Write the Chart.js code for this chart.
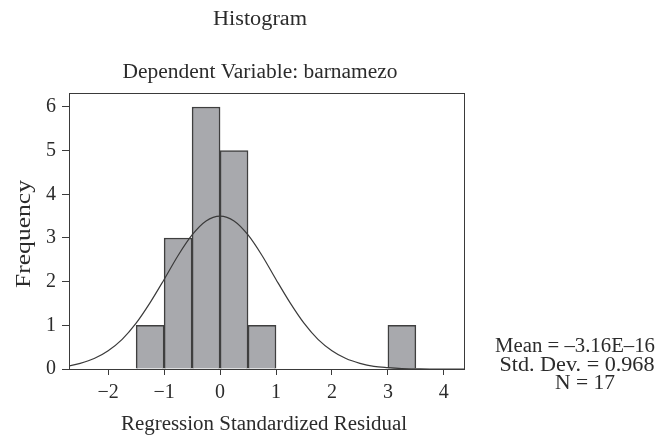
<!DOCTYPE html>
<html>
<head>
<meta charset="utf-8">
<script src="https://cdn.jsdelivr.net/npm/chart.js@4/dist/chart.umd.min.js"></script>
<style>
  html, body { margin: 0; padding: 0; background: #fff; }
  canvas { display: block; }
</style>
</head>
<body>
<canvas id="hist" width="658" height="438"></canvas>
<script>
// Данные гистограммы (ширина бина 0.5)
const binCenters = [-1.25, -0.75, -0.25, 0.25, 0.75, 3.25];
const binCounts = [1, 3, 6, 5, 1, 1];

// Нормальная кривая, точки
const curveX = [-2.7, -2.5, -2.25, -2, -1.75, -1.5, -1.25, -1, -0.75, -0.5, -0.25, 0, 0.25, 0.5, 0.75, 1, 1.25, 1.5, 1.75, 2, 2.25, 2.5, 2.75, 3, 3.25, 3.5, 3.75, 4, 4.36];
const curveY = [0.07, 0.13, 0.24, 0.42, 0.68, 1.05, 1.52, 2.05, 2.6, 3.07, 3.39, 3.5, 3.39, 3.07, 2.6, 2.05, 1.52, 1.05, 0.68, 0.42, 0.24, 0.13, 0.06, 0.03, 0.01, 0.005, 0, 0, 0];

const xTicks = [-2, -1, 0, 1, 2, 3, 4];
const yTicks = [0, 1, 2, 3, 4, 5, 6];

const titleText = 'Histogram';
const subtitleText = 'Dependent Variable: barnamezo';
const xTitle = 'Regression Standardized Residual';
const yTitle = 'Frequency';
const statsLines = ['Mean = \u20133.16E\u201316', 'Std. Dev. = 0.968', 'N = 17'];

const FONT = '"Liberation Serif", "Times New Roman", serif';
const INK = '#2b2b2b';
const LINE = '#3a3a3a';

// Текст, растянутый по ширине (в оригинале шрифт шире Times)
function wideText(ctx, text, x, y, width) {
    const w = ctx.measureText(text).width;
    ctx.save();
    ctx.translate(x, y);
    ctx.scale(width / w, 1);
    ctx.fillText(text, 0, 0);
    ctx.restore();
}

// Рамка вокруг области графика + все подписи
const framePlugin = {
    id: 'frame',
    afterDraw(chart) {
        const { ctx, chartArea: a } = chart;
        ctx.save();
        ctx.strokeStyle = LINE;
        ctx.lineWidth = 1;
        ctx.strokeRect(a.left + 0.5, a.top + 0.5, a.right - a.left, a.bottom - a.top);

        ctx.fillStyle = INK;
        ctx.textAlign = 'center';
        ctx.textBaseline = 'alphabetic';
        ctx.font = '20px ' + FONT;
        wideText(ctx, titleText, 260, 25, 94);
        wideText(ctx, subtitleText, 260, 78, 275);
        wideText(ctx, xTitle, 264, 430, 286);

        ctx.save();
        ctx.translate(30, 234);
        ctx.rotate(-Math.PI / 2);
        wideText(ctx, yTitle, 0, 0, 108);
        ctx.restore();

        wideText(ctx, statsLines[0], 575, 352, 160);
        wideText(ctx, statsLines[1], 577, 371, 155);
        wideText(ctx, statsLines[2], 585, 389, 60);
        ctx.restore();
    }
};

const minus = v => String(v).replace('-', '\u2212');

new Chart(document.getElementById('hist'), {
    type: 'bar',
    data: {
        datasets: [
            {
                type: 'line',
                data: curveX.map((x, i) => ({ x: x, y: curveY[i] })),
                borderColor: LINE,
                borderWidth: 1.2,
                pointRadius: 0,
                cubicInterpolationMode: 'monotone',
                fill: false,
                order: 0
            },
            {
                type: 'bar',
                data: binCenters.map((x, i) => ({ x: x, y: binCounts[i] })),
                backgroundColor: '#a8a9ad',
                borderColor: '#3f3f3f',
                borderWidth: 1.5,
                borderSkipped: 'bottom',
                barPercentage: 1,
                categoryPercentage: 1,
                order: 1
            }
        ]
    },
    options: {
        responsive: false,
        animation: false,
        layout: { padding: { top: 93, right: 194, left: 0, bottom: 0 } },
        plugins: { legend: { display: false }, tooltip: { enabled: false } },
        scales: {
            x: {
                type: 'linear',
                min: -2.7,
                max: 4.36,
                offset: false,
                afterFit: s => { s.height = 69; },
                afterBuildTicks: s => { s.ticks = xTicks.map(v => ({ value: v })); },
                ticks: {
                    font: { family: FONT, size: 20 },
                    color: INK,
                    padding: 6,
                    maxRotation: 0,
                    callback: minus
                },
                grid: { display: true, drawOnChartArea: false, drawTicks: true, tickLength: 6, color: LINE, offset: false },
                border: { color: LINE, width: 1 }
            },
            y: {
                min: 0,
                max: 6.32,
                afterFit: s => { s.width = 69; },
                afterBuildTicks: s => { s.ticks = yTicks.map(v => ({ value: v })); },
                ticks: {
                    font: { family: FONT, size: 20 },
                    color: INK,
                    padding: 6
                },
                grid: { display: true, drawOnChartArea: false, drawTicks: true, tickLength: 7, color: LINE },
                border: { color: LINE, width: 1 }
            }
        }
    },
    plugins: [framePlugin]
});
</script>
</body>
</html>
